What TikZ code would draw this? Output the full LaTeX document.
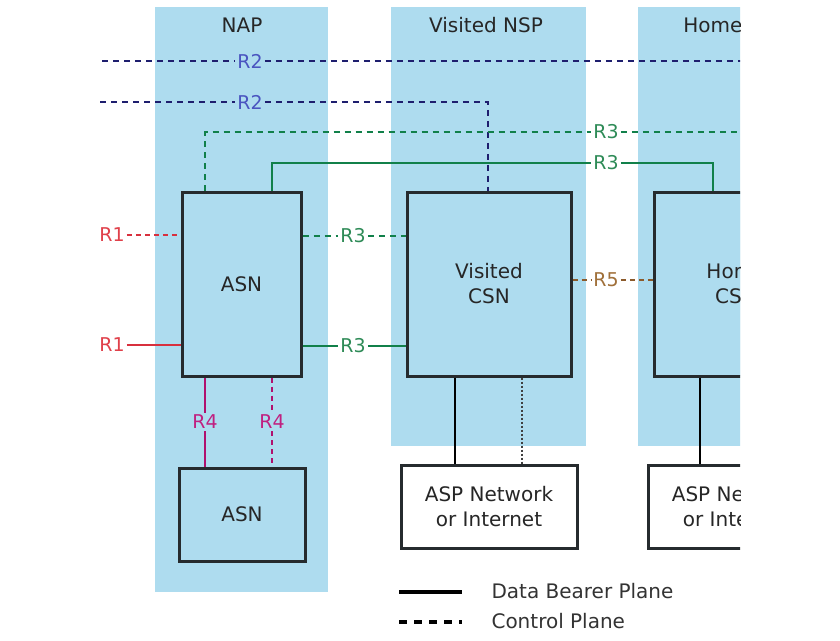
\documentclass[tikz,border=0pt]{standalone}
\usepackage{fontspec}
\setmainfont{DejaVu Sans}
\definecolor{zoneblue}{HTML}{AEDCEF}
\definecolor{navyline}{HTML}{1E1E6E}
\definecolor{navylab}{HTML}{4A55C0}
\definecolor{greenline}{HTML}{11804A}
\definecolor{greenlab}{HTML}{2E8B57}
\definecolor{redline}{HTML}{D8303E}
\definecolor{redlab}{HTML}{E0404A}
\definecolor{magline}{HTML}{B0106E}
\definecolor{maglab}{HTML}{C02080}
\definecolor{brownline}{HTML}{8B5A2B}
\definecolor{brownlab}{HTML}{A0703A}
\definecolor{boxline}{HTML}{262B2E}
\begin{document}
\begin{tikzpicture}[x=1pt,y=-1pt,
  zone/.style={fill=zoneblue,draw=none},
  ztitle/.style={font=\fontsize{20}{24}\selectfont,text=black!85},
  netbox/.style={draw=boxline,line width=3pt,fill=zoneblue,align=center,
    font=\fontsize{20}{25}\selectfont,text=black!85,inner sep=0pt},
  aspbox/.style={netbox,fill=white},
  lab/.style={font=\fontsize{19}{22}\selectfont,inner sep=2pt},
  conn/.style={line width=2.5pt},
  ctrl/.style={conn,dash pattern=on 6pt off 5pt},
  legtext/.style={font=\fontsize{20}{24}\selectfont,text=black!80,anchor=west}]
\useasboundingbox (0,0) rectangle (840,640);
\fill[white] (0,0) rectangle (840,640);
\begin{scope}
\clip (0,0) rectangle (740,640);
% zones
\fill[zone] (155,7) rectangle (328,592);
\fill[zone] (391,7) rectangle (586,446);
\fill[zone] (638,7) rectangle (840,446);
\node[ztitle] (tnap) at (242,25) {NAP};
\node[ztitle] (tvnsp) at (486,25) {Visited NSP};
\node[ztitle] (thnsp) at (736,25) {Home NSP};
% boxes
\node[netbox,minimum width=119pt,minimum height=184pt] (asn) at (241.5,284) {ASN};
\node[netbox,minimum width=126pt,minimum height=93pt] (asn2) at (242,514.5) {ASN};
\node[netbox,minimum width=164pt,minimum height=184pt] (vcsn) at (489,284) {Visited\\CSN};
\node[netbox,minimum width=164pt,minimum height=184pt] (hcsn) at (736,284) {Home\\CSN};
\node[aspbox,minimum width=176pt,minimum height=83pt] (asp1) at (489,506.5) {ASP Network\\or Internet};
\node[aspbox,minimum width=176pt,minimum height=83pt] (asp2) at (736,506.5) {ASP Network\\or Internet};
% R2 lines
\coordinate (r2a) at (102,61);
\coordinate (r2b) at (840,61);
\node[lab,text=navylab] (r2l1) at (250,61) {R2};
\draw[ctrl,navyline] (r2a) -- (r2l1) -- (r2b);
\coordinate (r2c) at (100,102);
\coordinate (r2bend) at (488,102);
\node[lab,text=navylab] (r2l2) at (250,102) {R2};
\draw[ctrl,navyline] (r2c) -- (r2l2) -- (r2bend) -- (r2bend |- vcsn.north);
% R3 top lines
\coordinate (g1) at (205,132);
\coordinate (g1e) at (840,132);
\node[lab,text=greenlab] (r3t1) at (606,132) {R3};
\draw[ctrl,greenline] (asn.north -| g1) -- (g1) -- (r3t1) -- (g1e);
\coordinate (g2) at (272,163);
\coordinate (g2e) at (713,163);
\node[lab,text=greenlab] (r3t2) at (606,163) {R3};
\draw[conn,greenline] (asn.north -| g2) -- (g2) -- (r3t2) -- (g2e) -- (g2e |- hcsn.north);
% R1
\node[lab,text=redlab] (r1a) at (112,235) {R1};
\draw[conn,redline,dash pattern=on 5pt off 4pt] (r1a) -- (r1a -| asn.west);
\node[lab,text=redlab] (r1b) at (112,345) {R1};
\draw[conn,redline] (r1b) -- (r1b -| asn.west);
% R3 between ASN and CSN
\node[lab,text=greenlab] (r3a) at (353,236) {R3};
\draw[ctrl,greenline] (r3a -| asn.east) -- (r3a) -- (r3a -| vcsn.west);
\node[lab,text=greenlab] (r3b) at (353,346) {R3};
\draw[conn,greenline] (r3b -| asn.east) -- (r3b) -- (r3b -| vcsn.west);
% R5
\node[lab,text=brownlab] (r5) at (606,280) {R5};
\draw[conn,brownline,dash pattern=on 5pt off 4pt] (r5 -| vcsn.east) -- (r5) -- (r5 -| hcsn.west);
% R4
\node[lab,text=maglab] (r4a) at (205,422) {R4};
\draw[conn,magline] (r4a |- asn.south) -- (r4a) -- (r4a |- asn2.north);
\node[lab,text=maglab] (r4b) at (272,422) {R4};
\draw[conn,magline,dash pattern=on 5pt off 4pt] (r4b |- asn.south) -- (r4b) -- (r4b |- asn2.north);
% ASP links
\coordinate (k1) at (455,420);
\draw[conn,black] (k1 |- vcsn.south) -- (k1 |- asp1.north);
\coordinate (k2) at (522,420);
\draw[line width=2pt,black!75,dash pattern=on 2pt off 2pt] (k2 |- vcsn.south) -- (k2 |- asp1.north);
\coordinate (k3) at (700,420);
\draw[conn,black] (k3 |- hcsn.south) -- (k3 |- asp2.north);
% legend
\coordinate (la) at (399,592);
\coordinate (lb) at (462,592);
\draw[line width=4pt,black] (la) -- (lb);
\coordinate (lc) at (399,622);
\coordinate (ld) at (462,622);
\draw[line width=4pt,black,dash pattern=on 8pt off 7pt] (lc) -- (ld);
\node[legtext] (lt1) at (488,591) {Data Bearer Plane};
\node[legtext] (lt2) at (488,621) {Control Plane};
\end{scope}
\end{tikzpicture}
\end{document}
